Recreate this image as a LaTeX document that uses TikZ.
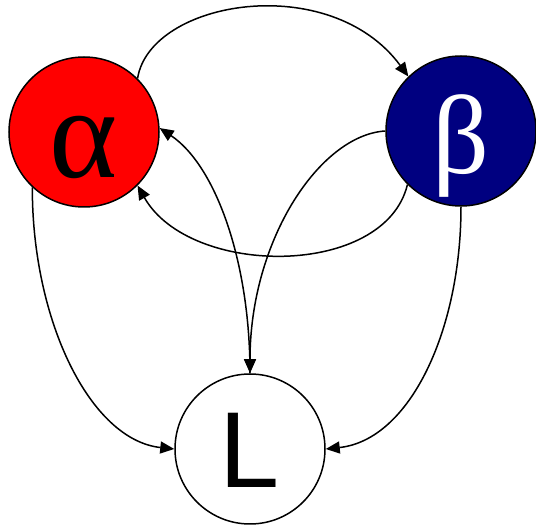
\documentclass[tikz,border=0pt]{standalone}
\usepackage{fontspec}
\usetikzlibrary{arrows.meta}
\setmainfont{Liberation Serif}
\newfontfamily\letterfont{Liberation Sans}
\definecolor{alphared}{HTML}{FF0000}
\definecolor{betanavy}{HTML}{000080}
\tikzset{state/.style={circle,draw=black,line width=1.5pt,inner sep=0pt,
  minimum size=150pt,text depth=0pt,font=\fontsize{112}{112}\selectfont},
  link/.style={-{Triangle[length=14pt,width=12pt]},line width=1.5pt,draw=black}}

\begin{document}
\begin{tikzpicture}[x=1pt,y=-1pt]
\useasboundingbox (0,0) rectangle (536,526);
\node[state,fill=alphared,text height=92pt,font=\fontsize{130}{130}\selectfont] (a) at (84,132) {α};
\node[state,fill=betanavy,text=white,text height=86pt] (b) at (461,131) {β};
\node[state,fill=white,text height=78pt,font=\fontsize{108}{108}\letterfont] (l) at (250,449) {L};
% links between the three nodes
\draw[link] (a.45) .. controls (150,0) and (330,-30) .. (b.134);
\draw[link] (b.225) .. controls (385,278) and (190,278) .. (a.-45);
\draw[link] (b.west) .. controls (320,135) and (250,240) .. (l.north);
\draw[link] (l.north) .. controls (250,260) and (215,165) .. (a.3);
\draw[link] (a.227) .. controls (32,320) and (90,440) .. (l.west);
\draw[link] (b.south) .. controls (461,330) and (410,440) .. (l.east);
\end{tikzpicture}
\end{document}
